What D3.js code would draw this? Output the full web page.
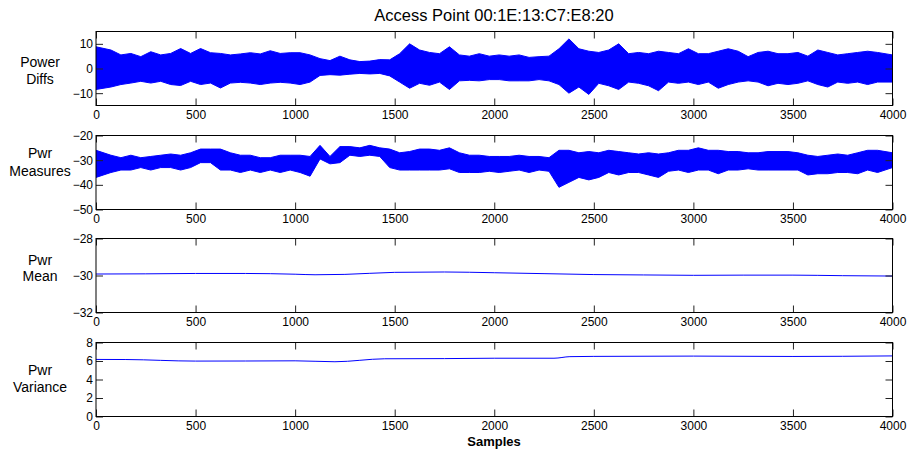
<!DOCTYPE html>
<html>
<head>
<meta charset="utf-8">
<script src="https://cdn.jsdelivr.net/npm/d3@7"></script>
<style>
  html, body { margin: 0; padding: 0; background: #fff; }
  svg { display: block; }
  text { font-family: "Liberation Sans", Arial, Helvetica, sans-serif; fill: #000; }
</style>
</head>
<body>
<svg id="chart" width="907" height="454"></svg>
<script>
// ---------------- DATA ----------------
const title = "Access Point 00:1E:13:C7:E8:20";
const xLabel = "Samples";
const sampleCount = 4000;
const binSize = 50;
const xTicks = [0, 500, 1000, 1500, 2000, 2500, 3000, 3500, 4000];

// Power Diffs: per-bin (50 samples) upper / lower extremes of the dense trace
const diffHi = [8.8, 7.5, 5.5, 6.1, 4.8, 6.8, 5.5, 6.1, 8.1, 6.1,
                8.1, 6.4, 6.1, 5.5, 5.9, 6.4, 5.9, 7.2, 6.1, 6.4,
                6.4, 5.5, 4.0, 3.2, 5.0, 3.5, 2.8, 3.0, 3.6, 3.5,
                6.0, 10.0, 7.5, 6.5, 6.0, 8.8, 5.5, 5.0, 6.0, 5.0,
                5.5, 5.0, 5.5, 4.5, 4.8, 5.0, 8.0, 12.0, 8.0, 7.0,
                6.5, 7.5, 10.0, 6.0, 6.5, 6.0, 7.0, 6.5, 6.0, 8.0,
                6.0, 6.0, 7.0, 8.0, 7.0, 4.8, 6.5, 7.0, 6.0, 6.0,
                6.5, 5.0, 7.5, 6.5, 5.5, 6.0, 6.5, 7.0, 6.5, 5.5];
const diffLo = [-8.5, -7.5, -6.5, -5.9, -5.2, -5.9, -5.2, -6.5, -6.9, -5.2,
                -6.5, -5.9, -7.9, -5.9, -5.6, -5.9, -6.5, -5.9, -5.6, -5.9,
                -6.5, -5.5, -2.8, -2.5, -2.7, -2.3, -2.0, -2.2, -2.0, -3.0,
                -5.5, -8.0, -6.0, -6.8, -5.5, -8.5, -5.0, -4.8, -5.0, -4.5,
                -4.5, -5.0, -5.0, -5.0, -4.5, -5.0, -6.5, -10.0, -7.5, -10.5,
                -6.0, -7.0, -8.5, -5.5, -6.0, -7.0, -9.0, -5.5, -6.0, -5.5,
                -6.5, -5.5, -8.0, -6.5, -5.5, -5.0, -5.5, -7.0, -6.0, -6.5,
                -6.0, -5.0, -6.5, -7.5, -5.5, -6.0, -5.5, -6.5, -5.5, -5.5];

// Pwr Measures: per-bin (50 samples) upper / lower extremes of the dense trace
const measHi = [-26, -28, -29, -28, -29, -28.5, -28, -27.5, -28, -27,
                -25.5, -25.5, -25.5, -27, -28, -28, -29, -29, -28, -28,
                -28, -28.5, -24, -28.5, -24.5, -24.5, -25, -24, -25, -25.5,
                -27, -26.5, -25.5, -25.5, -26, -25, -27, -28, -28, -28.5,
                -28.5, -28.5, -28, -28.5, -28.5, -29, -26, -26, -27, -26.5,
                -27, -26, -26.5, -27, -27.5, -27, -27.5, -27, -26, -26,
                -25, -26, -26, -26.5, -26.5, -27, -27, -26.5, -26.5, -26.5,
                -27, -28, -28.5, -28, -27.5, -28, -27, -26, -26, -27];
const measLo = [-37, -35, -34, -34, -33, -34, -33, -33, -34, -33,
                -31, -31, -34, -34, -35, -34, -35, -34, -35, -34,
                -35, -36.5, -29.5, -31.5, -31, -28, -28.5, -28, -28.5, -33,
                -34, -34, -34, -34, -34, -33.5, -35, -35, -35, -34.5,
                -35, -34.5, -34, -35, -34, -34.5, -41, -39, -37, -38,
                -37, -35, -36, -35, -35, -36, -37, -34.5, -34, -35,
                -34, -34, -35.5, -34, -34, -33.5, -34, -34, -34, -34,
                -34, -36, -35.5, -35.5, -35, -35, -35.5, -34, -35, -33];

// Pwr Mean (smooth curve)
const meanSamples = [0, 250, 500, 750, 1000, 1100, 1250, 1500, 1750, 2000, 2250, 2500, 2750, 3000, 3250, 3500, 3750, 4000];
const meanValues  = [-29.92, -29.91, -29.89, -29.89, -29.93, -29.96, -29.94, -29.83, -29.81, -29.85, -29.9, -29.95, -29.97, -29.99, -29.98, -29.98, -30.01, -30.03];

// Pwr Variance (smooth curve)
const varSamples = [0, 150, 500, 750, 1000, 1200, 1450, 1750, 2000, 2300, 2380, 2500, 3000, 3500, 4000];
const varValues  = [6.17, 6.16, 5.99, 6.0, 6.02, 5.92, 6.24, 6.26, 6.3, 6.3, 6.47, 6.5, 6.53, 6.49, 6.55];

const panelLabels = [["Power", "Diffs"], ["Pwr", "Measures"], ["Pwr", "Mean"], ["Pwr", "Variance"]];
const yDomains = [[-15, 15], [-50, -20], [-32, -28], [0, 8]];
const yTicks = [[-10, 0, 10], [-50, -40, -30, -20], [-32, -30, -28], [0, 2, 4, 6, 8]];

// ---------------- LAYOUT ----------------
const svg = d3.select("#chart");
const left = 96, right = 892.5;
const panelTops = [31.5, 135.5, 238.5, 342.5];
const panelH = 74;
const blue = "#0000ff";
const tickLen = 7;

const x = d3.scaleLinear().domain([0, sampleCount]).range([left, right]);

svg.append("text")
  .attr("x", 494).attr("y", 21)
  .attr("text-anchor", "middle").style("font-size", "16.5px")
  .text(title);

const labelBaselines = [[67, 84], [158, 176], [265, 281], [375, 392]];

panelTops.forEach((top, p) => {
  const y = d3.scaleLinear().domain(yDomains[p]).range([top + panelH, top]);
  const g = svg.append("g");

  const clipId = "clip" + p;
  svg.append("clipPath").attr("id", clipId)
    .append("rect").attr("x", left).attr("y", top).attr("width", right - left).attr("height", panelH);

  const dg = g.append("g").attr("clip-path", `url(#${clipId})`);

  if (p === 0 || p === 1) {
    const hi = p === 0 ? diffHi : measHi;
    const lo = p === 0 ? diffLo : measLo;
    const n = hi.length;
    // bin i spans [i*binSize, (i+1)*binSize); first and last bins reach the plot edges
    const bx = i => i === 0 ? 0 : i === n - 1 ? sampleCount : i * binSize + binSize / 2;
    const area = d3.area()
      .x((d, i) => x(bx(i)))
      .y0((d, i) => y(lo[i]))
      .y1((d, i) => y(hi[i]));
    dg.append("path").datum(hi).attr("d", area)
      .attr("fill", blue).attr("stroke", blue).attr("stroke-width", 1);
  } else {
    const xs = p === 2 ? meanSamples : varSamples;
    const vs = p === 2 ? meanValues : varValues;
    const line = d3.line().curve(d3.curveMonotoneX)
      .x((d, i) => x(xs[i])).y(d => y(d));
    dg.append("path").datum(vs).attr("d", line)
      .attr("fill", "none").attr("stroke", blue).attr("stroke-width", 1);
  }

  // axes (ticks inside)
  const bottomAxis = d3.axisBottom(x).tickValues(xTicks).tickSize(-tickLen).tickSizeOuter(0).tickPadding(5).tickFormat(d3.format("d"));
  const topAxis = d3.axisTop(x).tickValues(xTicks).tickSize(-tickLen).tickSizeOuter(0).tickFormat("");
  const leftAxis = d3.axisLeft(y).tickValues(yTicks[p]).tickSize(-tickLen).tickSizeOuter(0).tickPadding(3).tickFormat(d3.format("d"));
  const rightAxis = d3.axisRight(y).tickValues(yTicks[p]).tickSize(-tickLen).tickSizeOuter(0).tickFormat("");

  const axStyle = sel => {
    sel.select(".domain").remove();
    sel.selectAll(".tick line").attr("stroke", "#222");
    sel.selectAll(".tick text").style("font-size", "12px").style("font-family", '"Liberation Sans", Arial, sans-serif').attr("fill", "#000");
  };
  g.append("g").attr("transform", `translate(0,${top + panelH})`).call(bottomAxis).call(axStyle);
  g.append("g").attr("transform", `translate(0,${top})`).call(topAxis).call(axStyle);
  g.append("g").attr("transform", `translate(${left},0)`).call(leftAxis).call(axStyle);
  g.append("g").attr("transform", `translate(${right},0)`).call(rightAxis).call(axStyle);

  g.append("rect").attr("x", left).attr("y", top).attr("width", right - left).attr("height", panelH)
    .attr("fill", "none").attr("stroke", "#000").attr("stroke-width", 1);

  const lab = svg.append("text").attr("text-anchor", "middle").style("font-size", "14px");
  panelLabels[p].forEach((t, k) => {
    lab.append("tspan").attr("x", 40).attr("y", labelBaselines[p][k]).text(t);
  });
});

svg.append("text")
  .attr("x", 494).attr("y", 446)
  .attr("text-anchor", "middle").style("font-size", "13px").style("font-weight", "bold")
  .text(xLabel);
</script>
</body>
</html>
